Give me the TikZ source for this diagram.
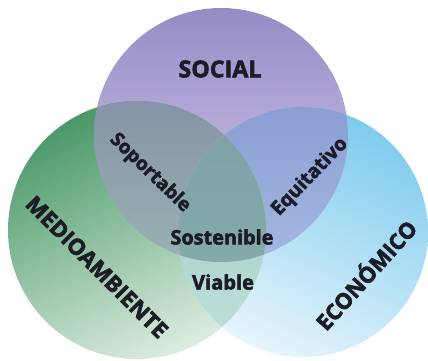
\documentclass[tikz,border=0pt]{standalone}
\usepackage{fontspec}
\setmainfont{Open Sans}
\newfontfamily\lblfont{Open Sans}[FakeBold=2.5]
\usepackage{graphicx}
\begin{document}
\begin{tikzpicture}[x=1pt,y=1pt,
  lbl/.style={inner sep=0pt, text=textdark, font=\lblfont\bfseries}]
\definecolor{textdark}{HTML}{1C1C26}
\definecolor{sTop}{HTML}{978BC6}
\definecolor{sBot}{HTML}{D6CDEB}
\definecolor{mTop}{HTML}{4A9868}
\definecolor{mBot}{HTML}{DCEDE0}
\definecolor{eTop}{HTML}{7FCBEE}
\definecolor{eBot}{HTML}{E6F5FC}
\definecolor{smTop}{HTML}{8593A7}
\definecolor{smBot}{HTML}{98B2B2}
\definecolor{seTop}{HTML}{8A9ED6}
\definecolor{seBot}{HTML}{A4B8E0}
\definecolor{meTop}{HTML}{98C8C2}
\definecolor{meBot}{HTML}{C4E2DC}
\definecolor{cTop}{HTML}{7EA2A6}
\definecolor{cBot}{HTML}{86ACAA}

\useasboundingbox (0,0) rectangle (428,360);

% circle centres
\coordinate (S) at (221,225);
\coordinate (M) at (137,130);
\coordinate (E) at (303,128);

% single circles
\shade[top color=sTop, bottom color=sBot] (S) circle (127);
\shade[top color=mTop, bottom color=mBot, shading angle=25] (M) circle (129);
\shade[top color=eTop, bottom color=eBot, shading angle=-25] (E) circle (125);

% pairwise overlaps
\begin{scope}
  \clip (S) circle (127);
  \clip (M) circle (129);
  \shade[top color=smTop, bottom color=smBot] (90,98) rectangle (270,262);
\end{scope}
\begin{scope}
  \clip (S) circle (127);
  \clip (E) circle (125);
  \shade[top color=seTop, bottom color=seBot] (175,98) rectangle (350,255);
\end{scope}
\begin{scope}
  \clip (M) circle (129);
  \clip (E) circle (125);
  \shade[top color=meTop, bottom color=meBot] (175,2) rectangle (268,232);
\end{scope}
% centre
\begin{scope}
  \clip (S) circle (127);
  \clip (M) circle (129);
  \clip (E) circle (125);
  \shade[top color=cTop, bottom color=cBot] (175,58) rectangle (270,228);
\end{scope}

% labels
\node[lbl] (social) at (220,291) {\resizebox{83pt}{!}{SOCIAL}};
\node[lbl, rotate=-44] (soport) at (150,187) {\resizebox{104pt}{!}{Soportable}};
\node[lbl, rotate=46] (equit) at (310,183) {\resizebox{100pt}{!}{Equitativo}};
\node[lbl] (sosten) at (222,123) {\resizebox{103pt}{!}{Sostenible}};
\node[lbl] (viable) at (223,78) {\resizebox{62pt}{!}{Viable}};
\node[lbl, rotate=-45] (medio) at (97,93) {\resizebox{190pt}{!}{MEDIOAMBIENTE}};
\node[lbl, rotate=48] (econ) at (365,86) {\resizebox{138pt}{!}{ECONÓMICO}};
\end{tikzpicture}
\end{document}
